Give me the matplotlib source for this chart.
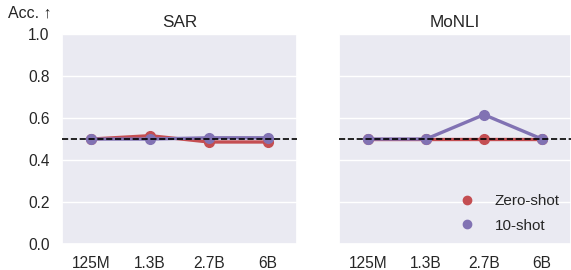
import matplotlib
matplotlib.use("Agg")
import matplotlib.pyplot as plt
import seaborn as sns

sns.set_theme(style="darkgrid")
plt.rcParams['font.family'] = ['Liberation Sans', 'DejaVu Sans']

models = ["125M", "1.3B", "2.7B", "6B"]
tasks = ["SAR", "MoNLI"]
zero_shot = {
    "SAR": [0.5, 0.516, 0.486, 0.486],
    "MoNLI": [0.5, 0.5, 0.5, 0.5],
}
ten_shot = {
    "SAR": [0.5, 0.5, 0.506, 0.506],
    "MoNLI": [0.5, 0.5, 0.616, 0.5],
}
chance = 0.5
yticks = [0.0, 0.2, 0.4, 0.6, 0.8, 1.0]

red = "#C44E52"
purple = "#8172B3"
text_color = "#262626"

fig = plt.figure(figsize=(5.71, 2.70), dpi=100)
ax1 = fig.add_axes([0.1086, 0.096, 0.4115, 0.778])
ax2 = fig.add_axes([0.5937, 0.096, 0.4063, 0.778], sharey=ax1)
axes = [ax1, ax2]

x = list(range(len(models)))
for ax, task in zip(axes, tasks):
    ax.plot(x, zero_shot[task], color=red, lw=2.4, marker="o", ms=7,
            label="Zero-shot", zorder=3)
    ax.plot(x, ten_shot[task], color=purple, lw=2.4, marker="o", ms=7,
            label="10-shot", zorder=4)
    ax.axhline(chance, color="black", ls="--", lw=1.2, zorder=5)
    ax.set_xlim(-0.5, len(models) - 0.5)
    ax.set_ylim(0, 1)
    ax.set_xticks(x)
    ax.set_xticklabels(models)
    ax.set_yticks(yticks)
    ax.xaxis.grid(False)
    ax.tick_params(axis="both", labelsize=11.2, colors=text_color)
    ax.tick_params(axis="x", pad=2.5)
    ax.tick_params(axis="y", pad=3)
    ax.set_title(task, fontsize=12.3, color=text_color, pad=5)

ax2.tick_params(axis="y", labelleft=False)

handles = [
    plt.Line2D([], [], color=red, marker="o", ls="none", ms=6),
    plt.Line2D([], [], color=purple, marker="o", ls="none", ms=6),
]
ax2.legend(handles, ["Zero-shot", "10-shot"], loc="lower right", frameon=False,
           fontsize=11, handletextpad=0.8, labelspacing=0.7,
           borderaxespad=0.35)

fig.text(0.014, 0.952, "Acc. ↑", fontsize=11.5, color=text_color,
         ha="left", va="center")

fig.savefig("out.png", dpi=100)
